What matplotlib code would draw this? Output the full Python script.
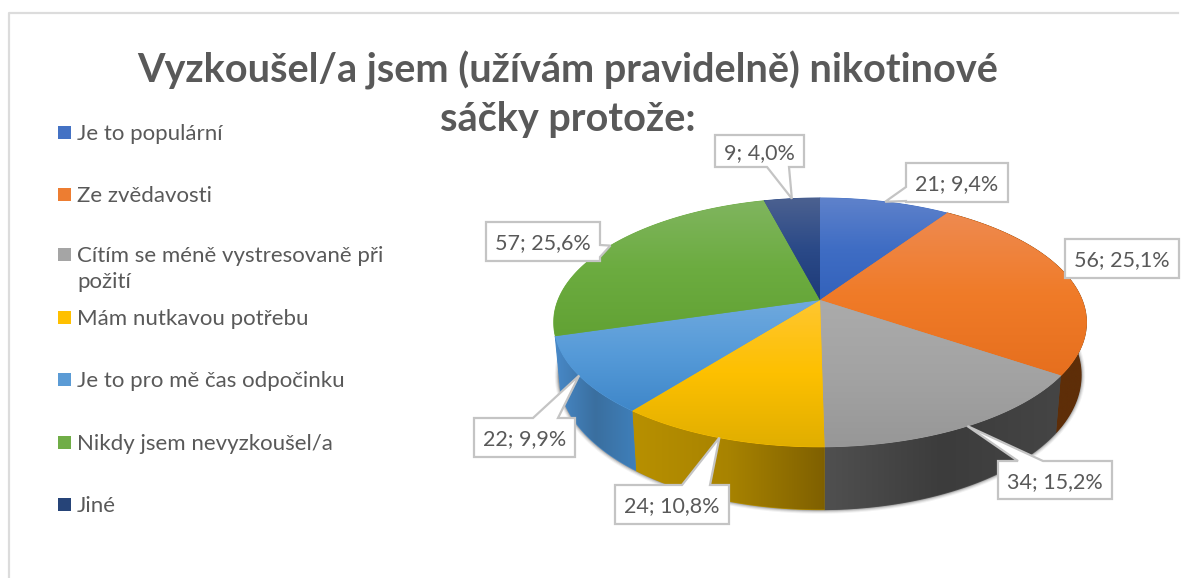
import matplotlib
matplotlib.use('Agg')
import matplotlib.pyplot as plt
import numpy as np
from matplotlib.colors import LinearSegmentedColormap
from matplotlib.patches import Polygon, Rectangle

title_lines = ['Vyzkoušel/a jsem (užívám pravidelně) nikotinové', 'sáčky protože:']
categories = ['Je to populární', 'Ze zvědavosti', 'Cítím se méně vystresovaně při\npožití',
              'Mám nutkavou potřebu', 'Je to pro mě čas odpočinku',
              'Nikdy jsem nevyzkoušel/a', 'Jiné']
values = [21, 56, 34, 24, 22, 57, 9]

colors = ['#4472C4', '#ED7D31', '#A5A5A5', '#FFC000', '#5B9BD5', '#70AD47', '#264478']
top_grads = [['#5f82cb', '#3f6dc4', '#3362bb'],
             ['#ee8a50', '#f07b28', '#e66f1e'],
             ['#ababab', '#a3a3a3', '#979797'],
             ['#ffc630', '#fdc000', '#e0ae00'],
             ['#6fa9de', '#559ad8', '#3f87c9'],
             ['#80b55f', '#6cac40', '#62a234'],
             ['#4c6190', '#2b4a88', '#1d3a78']]
# only the wedges facing the viewer show a wall
side_grads = [None,
              ['#5e2e08', '#5e2e08'],
              ['#505050', '#3c3c3c', '#454545'],
              ['#b89000', '#a88300', '#7f6000'],
              ['#4889c8', '#3a6f9f', '#3f7fba'],
              None,
              None]

# callout boxes: x0, x1, y0, y1, side of the tail, tail base start/end
boxes = [(906, 1008, 163, 202, 'left', 187, 201),
         (1065, 1179, 239, 278, None, 0, 0),
         (998, 1112, 461, 499, 'top', 1018, 1043),
         (615, 729, 485, 524, 'top', 682, 710),
         (474, 575, 418, 457, 'top', 533, 558),
         (486, 600, 222, 261, 'right', 245, 257),
         (715, 804, 135, 167, 'bottom', 767, 789)]

cx, cy = 820, 300
rx, ry, persp = 262, 120.4, 0.18
depth, shrink_x, stretch_y = 51, 0.98, 1.08
text_col = '#595959'
font = 'Lato'


def project(angle, bottom=False):
    # angle in radians, clockwise from 12 o'clock
    x, y = np.sin(angle), np.cos(angle)
    d = 1 + persp * y
    sx, sy = rx * x / d, -ry * y / d
    if bottom:
        return cx + shrink_x * sx, cy + stretch_y * sy + depth
    return cx + sx, cy + sy


def gradient_fill(ax, pts, stops, horizontal=False, zorder=2):
    pts = np.asarray(pts)
    x0, x1 = pts[:, 0].min(), pts[:, 0].max()
    y0, y1 = pts[:, 1].min(), pts[:, 1].max()
    cmap = LinearSegmentedColormap.from_list('g', stops)
    ramp = np.linspace(0, 1, 256)
    arr = ramp.reshape(1, -1) if horizontal else ramp.reshape(-1, 1)
    im = ax.imshow(arr, cmap=cmap, extent=(x0, x1, y1, y0), aspect='auto',
                   interpolation='bilinear', zorder=zorder)
    im.set_clip_path(Polygon(pts, closed=True, transform=ax.transData))


fig = plt.figure(figsize=(11.97, 5.78), dpi=100)
ax = fig.add_axes([0, 0, 1, 1])

fracs = np.array(values) / sum(values)
edges = np.concatenate([[0], np.cumsum(fracs)]) * 2 * np.pi

# soft shadow under the disc
full = np.linspace(0, 2 * np.pi, 361)
bx, by = project(full, bottom=True)
for lw, a in [(6, 0.05), (4.5, 0.08), (3, 0.12), (1.5, 0.2)]:
    ax.plot(bx, by, color='black', lw=lw, alpha=a, zorder=1)

# outer walls
for i in range(len(values)):
    if side_grads[i] is None:
        continue
    t = np.linspace(edges[i], edges[i + 1], 80)
    tx, ty = project(t)
    ux, uy = project(t, bottom=True)
    wall = np.column_stack([np.r_[tx, ux[::-1]], np.r_[ty, uy[::-1]]])
    ax.fill(wall[:, 0], wall[:, 1], color=side_grads[i][0], lw=0.8, zorder=1.5)
    gradient_fill(ax, wall, side_grads[i], horizontal=True, zorder=2)

# top faces
for i in range(len(values)):
    t = np.linspace(edges[i], edges[i + 1], 120)
    tx, ty = project(t)
    face = np.column_stack([np.r_[cx, tx], np.r_[cy, ty]])
    ax.fill(face[:, 0], face[:, 1], color=top_grads[i][1], lw=0.6, zorder=2.5)
    gradient_fill(ax, face, top_grads[i], zorder=3)

# callouts
mids = (edges[:-1] + edges[1:]) / 2
for v, f, m, b in zip(values, fracs, mids, boxes):
    x0, x1, y0, y1, side, p, q = b
    tip = project(m)
    if side == 'top':
        pts = [(x0, y0), (p, y0), tip, (q, y0), (x1, y0), (x1, y1), (x0, y1)]
    elif side == 'bottom':
        pts = [(x0, y0), (x1, y0), (x1, y1), (q, y1), tip, (p, y1), (x0, y1)]
    elif side == 'left':
        pts = [(x0, y0), (x1, y0), (x1, y1), (x0, y1), (x0, q), tip, (x0, p)]
    elif side == 'right':
        pts = [(x0, y0), (x1, y0), (x1, p), tip, (x1, q), (x1, y1), (x0, y1)]
    else:
        pts = [(x0, y0), (x1, y0), (x1, y1), (x0, y1)]
    ax.add_patch(Polygon(pts, closed=True, fc='white', ec='#c4c4c4', lw=1.6, zorder=4,
                         joinstyle='miter'))
    lab = f'{v}; {f * 100:.1f}%'.replace('.', ',')
    ax.text((x0 + x1) / 2, (y0 + y1) / 2, lab, ha='center', va='center_baseline',
            fontsize=15.5, color=text_col, family=font, zorder=5)

# legend
legend_y = [133, 195, 255, 318, 380, 443, 505]
for name, col, y in zip(categories, colors, legend_y):
    ax.add_patch(Rectangle((58, y - 7), 13, 13, fc=col, ec='none', zorder=3))
    ax.text(77, y - 9, name, ha='left', va='top', fontsize=16, color=text_col, family=font,
            linespacing=1.4)

# title, one text per line
for line, y in zip(title_lines, [70, 120]):
    ax.text(568, y, line, ha='center', va='center', fontsize=28.5, fontweight='bold',
            color=text_col, family=font)

# chart frame
ax.plot([9, 9, 1178], [578, 13, 13], color='#dcdcdc', lw=1.6, zorder=1)

ax.set_xlim(0, 1197)
ax.set_ylim(578, 0)
ax.axis('off')
fig.savefig('out.png', dpi=100)
